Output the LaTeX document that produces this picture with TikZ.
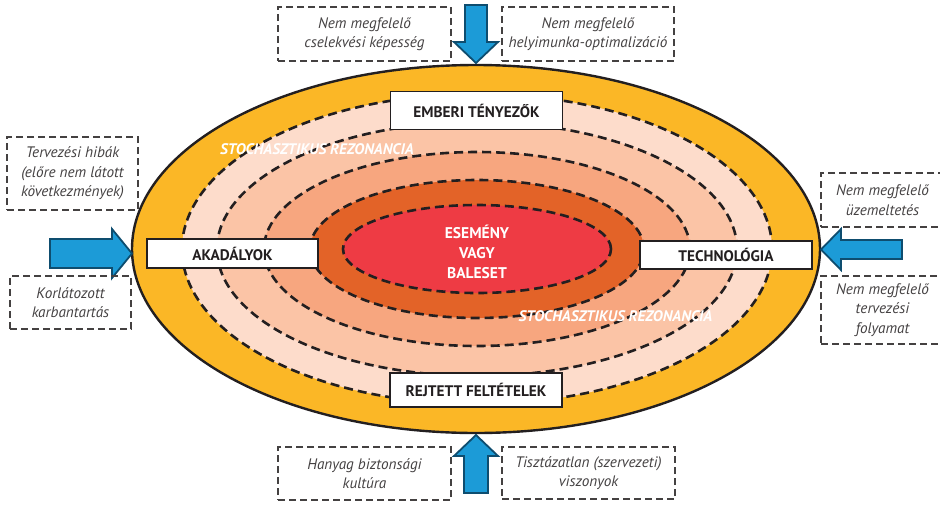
\documentclass[tikz,border=0pt]{standalone}
\usepackage{fontspec}
\setmainfont{PT Sans}
\definecolor{ringY}{HTML}{FBB726}
\definecolor{ringA}{HTML}{FDDCCB}
\definecolor{ringB}{HTML}{FBC4A6}
\definecolor{ringC}{HTML}{F7A67F}
\definecolor{ringD}{HTML}{E36328}
\definecolor{core}{HTML}{EE3B44}
\definecolor{arrowfill}{HTML}{1C9BD7}
\definecolor{arrowline}{HTML}{0E4D6F}
\definecolor{ink}{HTML}{231F20}
\begin{document}
\begin{tikzpicture}[x=1pt,y=-1pt,
  ringline/.style={draw=ink, line width=2.6pt, dash pattern=on 9pt off 5pt},
  lbl/.style={draw=ink, line width=1.6pt, fill=white, minimum width=172pt, inner sep=0pt,
    font=\bfseries\fontsize{15.3}{17}\selectfont, text=ink},
  cause/.style={draw=ink!85, line width=1.5pt, dash pattern=on 7pt off 4pt, align=center,
    inner sep=0pt, font=\itshape\fontsize{15.2}{19.5}\selectfont, text=ink!85},
  stoch/.style={text=white, font=\bfseries\itshape\fontsize{15.3}{17}\selectfont, inner sep=0pt},
  blockarrow/.style={fill=arrowfill, draw=arrowline, line width=1.8pt, line join=miter}
]
\useasboundingbox (0,0) rectangle (940,504);
\clip (0,0) rectangle (940,504);
% rings
\fill[ringY] (476,249) ellipse [x radius=344pt, y radius=184pt];
\draw[ink, line width=2.4pt] (476,249) ellipse [x radius=344pt, y radius=184pt];
\fill[ringA] (477,249) ellipse [x radius=295pt, y radius=155pt];
\draw[ringline] (477,249) ellipse [x radius=295pt, y radius=155pt];
\fill[ringB] (477,249) ellipse [x radius=260pt, y radius=127pt];
\draw[ringline] (477,249) ellipse [x radius=260pt, y radius=127pt];
\fill[ringC] (477,249) ellipse [x radius=213pt, y radius=97pt];
\draw[ringline] (477,249) ellipse [x radius=213pt, y radius=97pt];
\fill[ringD] (477,249) ellipse [x radius=167pt, y radius=69pt];
\draw[ringline] (477,249) ellipse [x radius=167pt, y radius=69pt];
\fill[core] (477,249) ellipse [x radius=134pt, y radius=44pt];
\draw[ringline] (477,249) ellipse [x radius=134pt, y radius=44pt];
% texts inside
\node[stoch] (st1) at (317,149) {STOCHASZTIKUS REZONANCIA};
\node[stoch] (st2) at (615.5,316) {STOCHASZTIKUS REZONANCIA};
\node[align=center, text=white, font=\bfseries\fontsize{15.5}{20}\selectfont, inner sep=0pt] (event) at (477,252) {ESEMÉNY\\VAGY\\BALESET};
% label boxes
\node[lbl, minimum height=38pt] (emberi) at (476.5,110.5) {EMBERI TÉNYEZŐK};
\node[lbl, minimum height=34pt] (rejtett) at (476,390) {REJTETT FELTÉTELEK};
\node[lbl, minimum width=171pt, minimum height=29pt] (akad) at (232.5,253.5) {AKADÁLYOK};
\node[lbl, minimum height=28pt] (techn) at (726,255) {TECHNOLÓGIA};
% arrows
\draw[blockarrow] (465,5) -- (487,5) -- (487,42) -- (498,42) -- (476,63) -- (454,42) -- (465,42) -- cycle;
\draw[blockarrow] (464,493) -- (488,493) -- (488,456) -- (498,456) -- (476,435) -- (454,456) -- (464,456) -- cycle;
\draw[blockarrow] (50,239) -- (112,239) -- (112,229) -- (132,253.5) -- (112,278) -- (112,268) -- (50,268) -- cycle;
\draw[blockarrow] (902,240) -- (841,240) -- (841,229) -- (821,249.5) -- (841,270) -- (841,259) -- (902,259) -- cycle;
% cause boxes
\node[cause, minimum width=173pt, minimum height=54pt] (c1) at (364.5,34) {Nem megfelelő\\cselekvési képesség};
\node[cause, minimum width=172pt, minimum height=54pt] (c2) at (588,34) {Nem megfelelő\\helyimunka-optimalizáció};
\node[cause, minimum width=131pt, minimum height=73pt] (c3) at (72.5,173.5) {Tervezési hibák\\(előre nem látott\\következmények)};
\node[cause, minimum width=121pt, minimum height=53pt] (c4) at (70.5,302.5) {Korlátozott\\karbantartás};
\node[cause, minimum width=123pt, minimum height=54pt] (c5) at (882.5,200) {Nem megfelelő\\üzemeltetés};
\node[cause, minimum width=123pt, minimum height=68pt] (c6) at (882.5,310) {Nem megfelelő\\tervezési\\folyamat};
\node[cause, minimum width=173pt, minimum height=53pt] (c7) at (364.5,473.5) {Hanyag biztonsági\\kultúra};
\node[cause, minimum width=173pt, minimum height=52pt] (c8) at (588.5,473) {Tisztázatlan (szervezeti)\\viszonyok};
\end{tikzpicture}
\end{document}
